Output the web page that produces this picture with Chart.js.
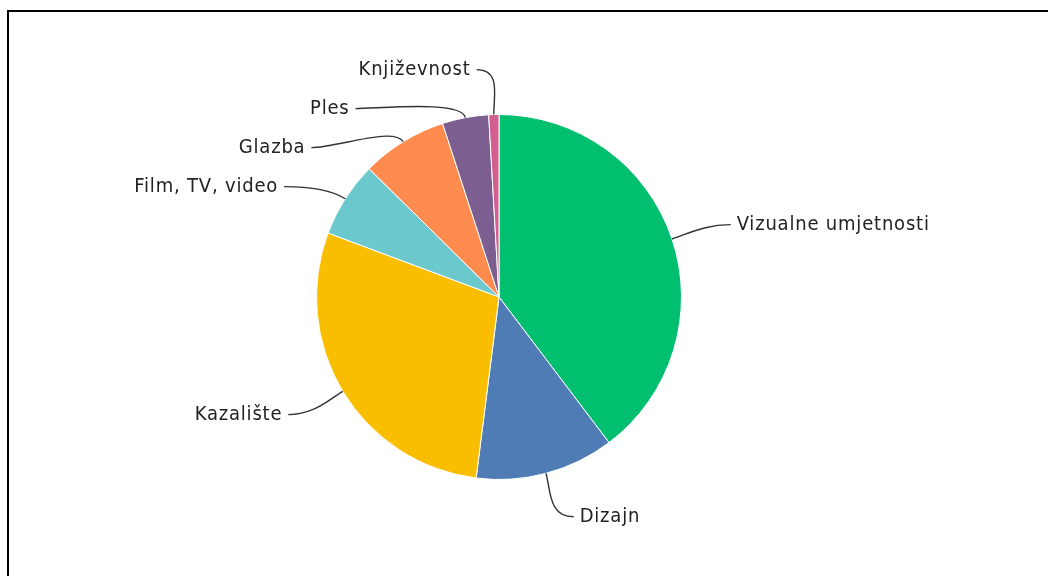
<!DOCTYPE html>
<html>
<head>
<meta charset="utf-8">
<script src="https://cdn.jsdelivr.net/npm/chart.js@4/dist/chart.umd.min.js"></script>
<style>
  html, body { margin: 0; padding: 0; background: #fff; }
  #frame {
    position: absolute; left: 7px; top: 10px; width: 1100px; height: 600px;
    border-top: 2px solid #000; border-left: 2px solid #000;
  }
  #wrap { position: absolute; left: 0; top: 0; width: 1048px; height: 576px; }
</style>
</head>
<body>
<div id="frame"></div>
<div id="wrap"><canvas id="pie"></canvas></div>
<script>
// categories and shares (%)
var categories = ['Vizualne umjetnosti', 'Dizajn', 'Kazalište', 'Film, TV, video', 'Glazba', 'Ples', 'Književnost'];
var shares = [39.7, 12.3, 28.7, 6.7, 7.6, 4.1, 0.9];
var colors = ['#00bf6f', '#507cb6', '#f9be00', '#6bc8cd', '#ff8b4f', '#7d5e90', '#d25f90'];

// draws the outside labels with soft curved connectors
var outsideLabels = {
  id: 'outsideLabels',
  afterDatasetsDraw: function(chart) {
    var ctx = chart.ctx;
    var arcs = chart.getDatasetMeta(0).data;
    var dist = 45, gap = 39, pad = 22;
    var items = arcs.map(function(arc, i) {
      var mid = (arc.startAngle + arc.endAngle) / 2;
      var R = arc.outerRadius + dist;
      return {
        i: i, arc: arc, mid: mid,
        right: Math.cos(mid) >= 0,
        y: arc.y + Math.sin(mid) * R,
        R: R
      };
    });
    // push overlapping labels down, per side
    [true, false].forEach(function(side) {
      var list = items.filter(function(it) { return it.right === side; })
        .sort(function(a, b) { return a.y - b.y; });
      for (var k = 1; k < list.length; k++) {
        if (list[k].y < list[k - 1].y + gap) list[k].y = list[k - 1].y + gap;
      }
    });

    ctx.save();
    ctx.font = '20px "DejaVu Sans Condensed", "DejaVu Sans"';
    ctx.letterSpacing = '0.8px';
    ctx.textBaseline = 'middle';
    items.forEach(function(it) {
      var arc = it.arc;
      var dy = it.y - arc.y;
      var dx = Math.sqrt(Math.max(0, it.R * it.R - dy * dy));
      var ax = it.right ? arc.x + dx : arc.x - dx;
      var sx = arc.x + Math.cos(it.mid) * arc.outerRadius;
      var sy = arc.y + Math.sin(it.mid) * arc.outerRadius;
      var c1x = arc.x + Math.cos(it.mid) * (arc.outerRadius + 18);
      var c1y = arc.y + Math.sin(it.mid) * (arc.outerRadius + 18);
      var tx = it.right ? ax + pad : ax - pad;
      var ex = it.right ? tx - 6 : tx + 6;

      ctx.beginPath();
      ctx.moveTo(sx, sy);
      ctx.bezierCurveTo(c1x, c1y, it.right ? ex - 25 : ex + 25, it.y, ex, it.y);
      ctx.strokeStyle = '#333';
      ctx.lineWidth = 1.4;
      ctx.stroke();

      ctx.fillStyle = '#222';
      ctx.textAlign = it.right ? 'left' : 'right';
      ctx.fillText(categories[it.i], tx, it.y);
    });
    ctx.restore();
  }
};

new Chart(document.getElementById('pie'), {
  type: 'pie',
  data: {
    labels: categories,
    datasets: [{
      data: shares,
      backgroundColor: colors,
      borderColor: '#ffffff',
      borderWidth: 1
    }]
  },
  options: {
    responsive: true,
    maintainAspectRatio: false,
    animation: false,
    layout: { padding: { top: 114, bottom: 96, left: 0, right: 50 } },
    plugins: {
      legend: { display: false },
      tooltip: { enabled: false }
    }
  },
  plugins: [outsideLabels]
});
</script>
</body>
</html>
